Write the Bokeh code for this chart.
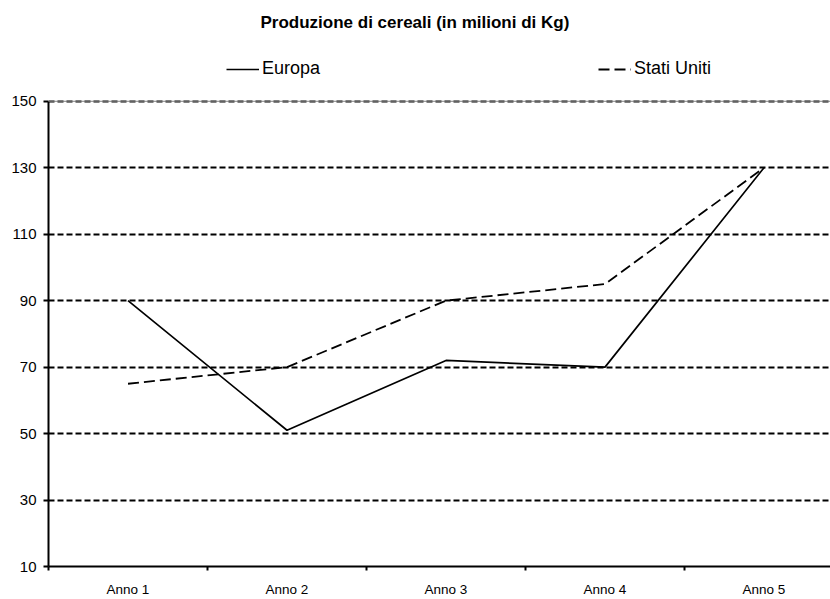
from bokeh.plotting import figure
from bokeh.models import (Range1d, FixedTicker, LinearAxis, Legend, LegendItem, Span, Grid)
from bokeh.embed import file_html
from bokeh.resources import INLINE

title = "Produzione di cereali (in milioni di Kg)"
categories = ["Anno 1", "Anno 2", "Anno 3", "Anno 4", "Anno 5"]
europa = [90, 51, 72, 70, 130]
stati_uniti = [65, 70, 90, 95, 130]
y_ticks = [10, 30, 50, 70, 90, 110, 130, 150]

FONT = "Liberation Sans"

# layout (pixels)
W, H = 830, 599
LEFT, BOTTOM = 48, 31
FRAME_TOP = 40           # frame extends up so the legend can sit inside it
PLOT_TOP = 101           # where the value axis ends (y = 150)
SLOT = 159               # width of one category slot
plot_h = H - BOTTOM - PLOT_TOP
y0, y1 = y_ticks[0], y_ticks[-1]
y_end = y1 + (PLOT_TOP - FRAME_TOP) * (y1 - y0) / plot_h

# category slots: centres at i + 0.5, slot boundaries at integers
xs = [i + 0.5 for i in range(len(categories))]
bounds = list(range(len(categories) + 1))

p = figure(width=W, height=H, output_backend="svg", toolbar_location=None,
           x_range=Range1d(0, (W - LEFT) / SLOT), y_range=Range1d(y0, y_end),
           min_border_left=LEFT, min_border_right=0, min_border_top=FRAME_TOP,
           min_border_bottom=BOTTOM, x_axis_type=None, y_axis_type=None)
p.outline_line_color = None
p.background_fill_color = "white"
p.border_fill_color = "white"

p.title.text = title
p.title.align = "left"
p.title.offset = 212
p.title.text_font = FONT
p.title.text_font_size = "17px"
p.title.text_font_style = "bold"
p.title.text_color = "black"
p.title.standoff = 18

# y axis
ya = LinearAxis(ticker=FixedTicker(ticks=y_ticks), bounds=(y0, y1))
ya.axis_line_width = 2
ya.axis_line_color = "black"
ya.major_tick_out = 5
ya.major_tick_in = 0
ya.major_tick_line_width = 2
ya.minor_tick_out = 0
ya.minor_tick_in = 0
ya.major_label_standoff = 7
ya.major_label_text_font = FONT
ya.major_label_text_font_size = "15px"
ya.major_label_text_color = "black"
p.add_layout(ya, "left")

# x axis
xa = LinearAxis(ticker=FixedTicker(ticks=xs, minor_ticks=bounds))
xa.major_label_overrides = {x: c for x, c in zip(xs, categories)}
xa.axis_line_width = 2
xa.axis_line_color = "black"
xa.major_tick_out = 0
xa.major_tick_in = 0
xa.minor_tick_out = 4
xa.minor_tick_in = 0
xa.minor_tick_line_width = 2
xa.minor_tick_line_color = "black"
xa.major_label_standoff = 11
xa.major_label_text_font = FONT
xa.major_label_text_font_size = "13.5px"
xa.major_label_text_color = "black"
p.add_layout(xa, "below")

# grid
p.ygrid.grid_line_color = None
p.xgrid.grid_line_color = None
g = Grid(dimension=1, ticker=FixedTicker(ticks=y_ticks[1:]))
g.grid_line_color = "black"
g.grid_line_width = 2
g.grid_line_dash = "6 3"
p.add_layout(g)

top = Span(location=y1, dimension="width", line_color="#808080", line_width=1)
p.add_layout(top)

r1 = p.line(xs, europa, line_color="black", line_width=1.7)
r2 = p.line(xs, stati_uniti, line_color="black", line_width=1.8, line_dash="11 5")

legend = Legend(items=[LegendItem(label="Europa", renderers=[r1]),
                       LegendItem(label="Stati Uniti", renderers=[r2])],
                orientation="horizontal", location=(178, H - BOTTOM - 81))
legend.border_line_color = None
legend.background_fill_alpha = 0
legend.padding = 0
legend.margin = 0
legend.glyph_width = 33
legend.glyph_height = 20
legend.label_height = 20
legend.label_width = 80
legend.label_standoff = 3
legend.spacing = 256
legend.label_text_font = FONT
legend.label_text_font_size = "18px"
legend.label_text_color = "black"
p.add_layout(legend)

open("out.html", "w").write(file_html(p, INLINE))
